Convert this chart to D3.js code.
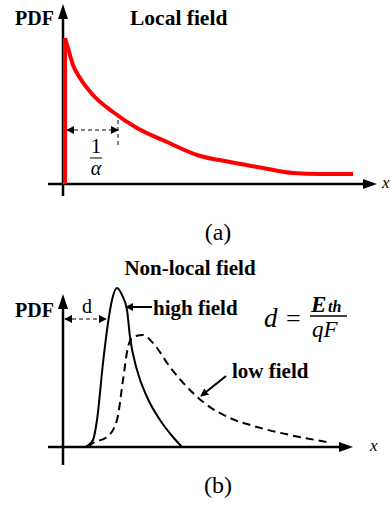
<!DOCTYPE html>
<html><head><meta charset="utf-8">
<script src="https://cdn.jsdelivr.net/npm/d3@7"></script>
<style>body{margin:0;background:#fff}svg{display:block}</style>
</head><body>
<script>
// Panel (a): local field PDF (x, pdf) in arbitrary units
const localX = [2,2,5,10,17,30,50,74,104,134,167,200,230,257,290];
const localY = [0,146,136,119,106,89,72,56,42,29,22,16,11,10,10];
// Panel (b): non-local field, high field (solid) and low field (dashed)
const highX = [22,24,30,34,40,45,49,54,59,64,67,74,84,97,110,119];
const highY = [0,1,7,27,84,124,147,159,152,137,110,77,50,27,10,0];
const lowX = [25,30,44,54,60,65,70,80,90,107,130,144,167,194,227,264];
const lowY = [0,4,10,27,67,100,110,112,104,80,54,42,29,20,12,5];
const titles = ["Local field","Non-local field"];
const captions = ["(a)","(b)"];

const FF="Liberation Serif";
const W=391,H=509;
const svg=d3.select("body").append("svg").attr("width",W).attr("height",H);
const defs=svg.append("defs");
defs.append("marker").attr("id","ah").attr("viewBox","0 0 10 10").attr("refX",9).attr("refY",5)
 .attr("markerWidth",8).attr("markerHeight",8).attr("markerUnits","userSpaceOnUse").attr("orient","auto-start-reverse")
 .append("path").attr("d","M0,0L10,5L0,10Z").attr("fill","#000");

function txt(g,x,y,s,size,opt){
  opt=opt||{};
  const t=g.append("text").attr("x",x).attr("y",y).attr("font-family",FF).attr("font-size",size).text(s);
  if(opt.b) t.attr("font-weight","bold");
  if(opt.i) t.attr("font-style","italic");
  if(opt.m) t.attr("text-anchor","middle");
  return t;
}

function axes(g,x0,x1,y0,yTop,yBot,xl){
  g.append("line").attr("x1",48).attr("x2",x1-10).attr("y1",y0).attr("y2",y0).attr("stroke","#000").attr("stroke-width",2.5);
  g.append("path").attr("d",`M${x1},${y0}L${x1-14},${y0-5}L${x1-14},${y0+5}Z`).attr("fill","#000");
  g.append("line").attr("x1",x0).attr("x2",x0).attr("y1",yBot).attr("y2",yTop+10).attr("stroke","#000").attr("stroke-width",2.5);
  g.append("path").attr("d",`M${x0},${yTop}L${x0-5},${yTop+15}L${x0+5},${yTop+15}Z`).attr("fill","#000");
  txt(g,xl,y0+4,"x",17,{i:1});
}

// ---------- Panel (a)
const xa=d3.scaleLinear().domain([0,300]).range([63,363]);
const ya=d3.scaleLinear().domain([0,150]).range([184,34]);
const ga=svg.append("g");
axes(ga,63,377,184,4,196,382);
txt(ga,15,25,"PDF",20,{b:1});
txt(ga,130,25,titles[0],21.5,{b:1});
ga.append("path").attr("d",d3.line().x(i=>xa(localX[i])).y(i=>ya(localY[i])).curve(d3.curveLinear)([0,1]))
  .attr("fill","none").attr("stroke","red").attr("stroke-width",4);
ga.append("path").attr("d",d3.line().x(i=>xa(localX[i])).y(i=>ya(localY[i])).curve(d3.curveMonotoneX)(d3.range(1,localX.length)))
  .attr("fill","none").attr("stroke","red").attr("stroke-width",4).attr("stroke-linejoin","round");
// 1/alpha annotation
ga.append("line").attr("x1",xa(4)).attr("x2",xa(55)).attr("y1",130).attr("y2",130).attr("stroke","#000").attr("stroke-width",1).attr("stroke-dasharray","4,3")
  .attr("marker-start","url(#ah)").attr("marker-end","url(#ah)");
ga.append("line").attr("x1",xa(55)).attr("x2",xa(55)).attr("y1",120).attr("y2",146).attr("stroke","#000").attr("stroke-width",1).attr("stroke-dasharray","4,3");
txt(ga,96,153,"1",21,{m:1});
ga.append("line").attr("x1",90).attr("x2",102).attr("y1",158).attr("y2",158).attr("stroke","#000").attr("stroke-width",1);
txt(ga,96,175,"α",20,{m:1,i:1});
txt(ga,218,240,captions[0],24,{m:1});

// ---------- Panel (b)
const xb=d3.scaleLinear().domain([0,300]).range([63,363]);
const yb=d3.scaleLinear().domain([0,160]).range([447,287]);
const gb=svg.append("g");
axes(gb,63,353,447,294,465,370);
txt(gb,15,317,"PDF",20,{b:1});
txt(gb,190,275,titles[1],21,{b:1,m:1});
gb.append("path").attr("d",d3.line().x(i=>xb(highX[i])).y(i=>yb(highY[i])).curve(d3.curveMonotoneX)(d3.range(highX.length)))
  .attr("fill","none").attr("stroke","#000").attr("stroke-width",2).attr("stroke-linejoin","round");
gb.append("path").attr("d",d3.line().x(i=>xb(lowX[i])).y(i=>yb(lowY[i])).curve(d3.curveMonotoneX)(d3.range(lowX.length)))
  .attr("fill","none").attr("stroke","#000").attr("stroke-width",2).attr("stroke-dasharray","8,5");
// d annotation
gb.append("line").attr("x1",xb(2)).attr("x2",xb(43)).attr("y1",319).attr("y2",319).attr("stroke","#000").attr("stroke-width",1).attr("stroke-dasharray","4,3")
  .attr("marker-start","url(#ah)").attr("marker-end","url(#ah)");
txt(gb,87,313,"d",20,{m:1});
// high field label
gb.append("line").attr("x1",152).attr("x2",126).attr("y1",307).attr("y2",307).attr("stroke","#000").attr("stroke-width",2).attr("marker-end","url(#ah)");
txt(gb,153,315,"high field",21,{b:1});
// low field label
gb.append("line").attr("x1",226).attr("x2",201).attr("y1",376).attr("y2",396).attr("stroke","#000").attr("stroke-width",2).attr("marker-end","url(#ah)");
txt(gb,232,378,"low field",21,{b:1});
// formula
txt(gb,264,327,"d",27,{i:1});
txt(gb,286,327,"=",26);
txt(gb,311,312,"E",23,{i:1,b:1});
txt(gb,328,312,"th",16,{i:1,b:1});
gb.append("line").attr("x1",310).attr("x2",347).attr("y1",316).attr("y2",316).attr("stroke","#000").attr("stroke-width",1.5);
txt(gb,312,337,"qF",23,{i:1});
txt(gb,218,493,captions[1],24,{m:1});
</script>
</body></html>
